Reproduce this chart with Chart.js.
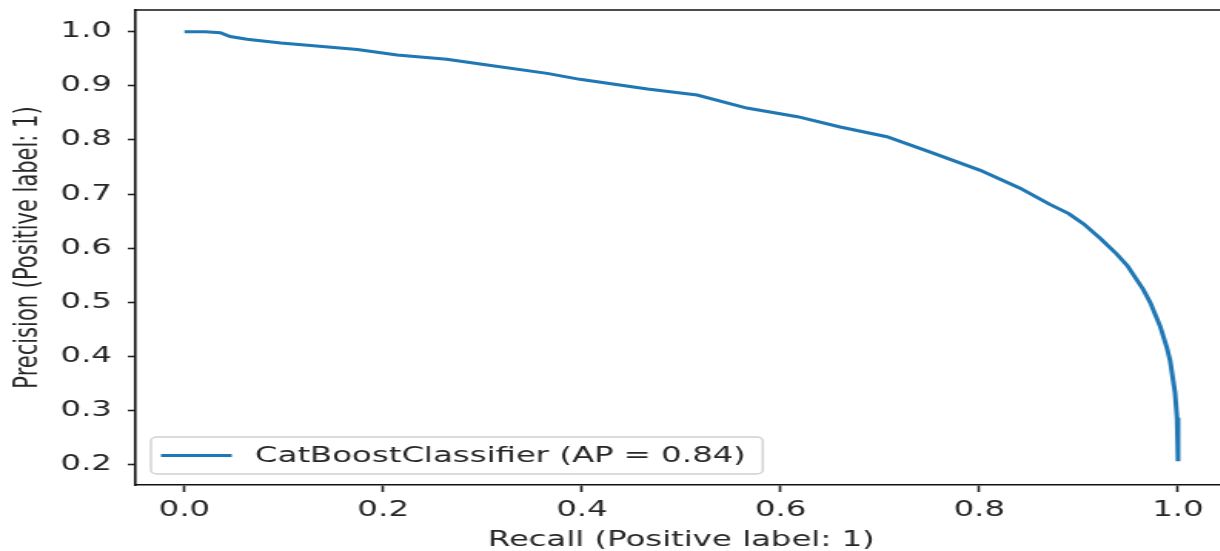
<!DOCTYPE html>
<html>
<head>
<meta charset="utf-8">
<script src="https://cdn.jsdelivr.net/npm/chart.js@4/dist/chart.umd.min.js"></script>
<style>
  html, body { margin: 0; padding: 0; background: #fff; overflow: hidden; }
  #clip { position: relative; width: 1220px; height: 551px; overflow: hidden; }
  #wrap { position: absolute; left: 0; top: 0; width: 830px; height: 551px; transform: scaleX(1.54); transform-origin: 0 0; }
</style>
</head>
<body>
<div id="clip"><div id="wrap"><canvas id="pr-chart" width="830" height="551"></canvas></div></div>
<script>
// precision-recall curve
const recall = [0, 0.021, 0.036, 0.046, 0.063, 0.097, 0.130, 0.174, 0.214, 0.264, 0.303,
    0.365, 0.398, 0.466, 0.516, 0.566, 0.617, 0.660, 0.707, 0.750, 0.801, 0.841, 0.871,
    0.890, 0.905, 0.922, 0.938, 0.949, 0.965, 0.972, 0.982, 0.989, 0.992, 0.997, 0.999, 1.0];
const precision = [1.0, 1.0, 0.998, 0.991, 0.986, 0.979, 0.974, 0.967, 0.957, 0.949, 0.939,
    0.923, 0.912, 0.894, 0.883, 0.859, 0.843, 0.824, 0.806, 0.778, 0.744, 0.711, 0.681,
    0.664, 0.645, 0.618, 0.590, 0.568, 0.524, 0.500, 0.456, 0.415, 0.393, 0.333, 0.287, 0.207];
const seriesLabel = 'CatBoostClassifier (AP = 0.84)';
const xTitle = 'Recall (Positive label: 1)';
const yTitle = 'Precision (Positive label: 1)';
const xTicks = [0, 0.2, 0.4, 0.6, 0.8, 1.0];
const yTicks = [0.2, 0.3, 0.4, 0.5, 0.6, 0.7, 0.8, 0.9, 1.0];

const lineColor = '#1f77b4';
const textColor = '#262626';
Chart.defaults.font.family = "'DejaVu Sans', sans-serif";
Chart.defaults.font.size = 21;
Chart.defaults.color = textColor;

// top spine (the right one falls outside the picture) plus a matplotlib style legend
const framePlugin = {
    id: 'frame',
    afterDraw(chart) {
        const { ctx, chartArea: a } = chart;
        ctx.save();
        ctx.strokeStyle = '#111';
        ctx.lineWidth = 1.6;
        ctx.beginPath();
        ctx.moveTo(a.left, a.top);
        ctx.lineTo(chart.width, a.top);
        ctx.stroke();

        const ds = chart.data.datasets[0];
        ctx.font = "21px 'DejaVu Sans', sans-serif";
        const tw = ctx.measureText(ds.label).width;
        const left = a.left + 10.5, bottom = a.bottom - 11;
        const h = 37, w = 67.6 + tw + 11;
        const top = bottom - h;
        ctx.beginPath();
        ctx.roundRect(left, top, w, h, 4);
        ctx.fillStyle = 'rgba(255,255,255,0.8)';
        ctx.fill();
        ctx.strokeStyle = '#d0d0d0';
        ctx.lineWidth = 1.4;
        ctx.stroke();
        const cy = top + h / 2;
        ctx.strokeStyle = ds.borderColor;
        ctx.lineWidth = ds.borderWidth;
        ctx.beginPath();
        ctx.moveTo(left + 6.5, cy);
        ctx.lineTo(left + 52.5, cy);
        ctx.stroke();
        ctx.fillStyle = textColor;
        ctx.textBaseline = 'middle';
        ctx.fillText(ds.label, left + 67.6, cy + 1);
        ctx.restore();
    }
};

const ctx = document.getElementById('pr-chart').getContext('2d');
new Chart(ctx, {
    type: 'line',
    data: {
        datasets: [{
            label: seriesLabel,
            data: recall.map((r, i) => ({ x: r, y: precision[i] })),
            borderColor: lineColor,
            borderWidth: 3,
            pointRadius: 0,
            tension: 0,
            fill: false
        }]
    },
    options: {
        responsive: false,
        animation: false,
        layout: { padding: { left: 0, right: 32.8, top: 10, bottom: 0 } },
        plugins: { legend: { display: false }, tooltip: { enabled: false } },
        scales: {
            x: {
                type: 'linear',
                min: -0.05,
                max: 1.05,
                afterBuildTicks: s => { s.ticks = xTicks.map(v => ({ value: v })); },
                afterFit: s => { s.height = 66; s.paddingLeft = 0; s.paddingRight = 0; },
                ticks: { padding: 6, maxRotation: 0, callback: v => v.toFixed(1), font: { size: 21, lineHeight: 1.2 } },
                grid: { drawOnChartArea: false, tickLength: 7, tickWidth: 1.6, tickColor: '#222' },
                border: { display: true, color: '#111', width: 1.6 },
                title: { display: true, text: xTitle, font: { size: 21, lineHeight: 1 }, padding: { top: 0, bottom: 0 } }
            },
            y: {
                type: 'linear',
                min: 0.163,
                max: 1.04,
                afterBuildTicks: s => { s.ticks = yTicks.map(v => ({ value: v })); },
                afterFit: s => { s.width = 87.5; s.paddingTop = 0; s.paddingBottom = 0; },
                ticks: { padding: 10.3, callback: v => v.toFixed(1) },
                grid: { drawOnChartArea: false, tickLength: 4.5, tickWidth: 1.6, tickColor: '#222' },
                border: { display: true, color: '#111', width: 1.6 },
                title: { display: true, text: yTitle, font: { size: 21, lineHeight: 1 }, padding: { top: 7.7, bottom: 0 } }
            }
        }
    },
    plugins: [framePlugin]
});
</script>
</body>
</html>
